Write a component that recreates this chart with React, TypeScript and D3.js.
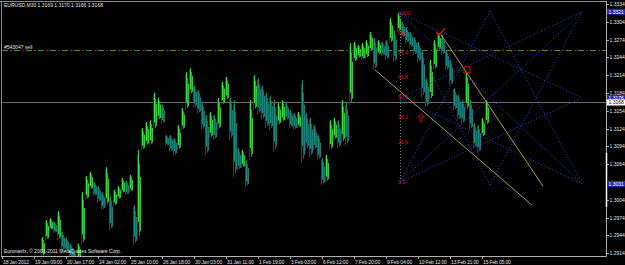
import React from 'react';
import * as d3 from 'd3';

const symbolTitle = 'EURUSD,M30  1.3169 1.3170 1.3166 1.3168';
const orderLabel = '#543047 sell';
const copyright = 'Euronasfx, \u00a9 2001-2011 MetaQuotes Software Corp.';

// M30 bars, sampled every 8 bars starting at bar 82
const firstBar = 82;
const barStep = 8;
const highs = [
  1.2941, 1.2970, 1.2973, 1.2967, 1.2985, 1.2950, 1.2940, 1.2930, 1.2916, 1.2930,
  1.3017, 1.3044, 1.3051, 1.3034, 1.3027, 1.3017, 1.3059, 1.3010, 1.3021, 1.3027,
  1.3041, 1.3036, 1.3046, 1.2995, 1.3088, 1.3125, 1.3135, 1.3138, 1.3184, 1.3176,
  1.3165, 1.3113, 1.3113, 1.3108, 1.3130, 1.3159, 1.3219, 1.3226, 1.3197, 1.3189,
  1.3167, 1.3147, 1.3152, 1.3147, 1.3176, 1.3203, 1.3211, 1.3177, 1.3172, 1.3091,
  1.3088, 1.3071, 1.3172, 1.3214, 1.3209, 1.3197, 1.3184, 1.3179, 1.3172, 1.3167,
  1.3172, 1.3167, 1.3155, 1.3150, 1.3152, 1.3206, 1.3150, 1.3142, 1.3130, 1.3113,
  1.3074, 1.3080, 1.3138, 1.3142, 1.3138, 1.3172, 1.3167, 1.3268, 1.3270, 1.3265,
  1.3268, 1.3273, 1.3287, 1.3277, 1.3273, 1.3270, 1.3273, 1.3310, 1.3290, 1.3319,
  1.3304, 1.3295, 1.3287, 1.3278, 1.3270, 1.3256, 1.3209, 1.3240, 1.3273, 1.3285,
  1.3282, 1.3256, 1.3240, 1.3192, 1.3181, 1.3172, 1.3219, 1.3172, 1.3133, 1.3130,
  1.3142, 1.3172,
];
const lows = [
  1.2909, 1.2936, 1.2953, 1.2948, 1.2936, 1.2919, 1.2916, 1.2906, 1.2894, 1.2899,
  1.2928, 1.3004, 1.3021, 1.3010, 1.3000, 1.2987, 1.2994, 1.2953, 1.2994, 1.3005,
  1.3015, 1.3012, 1.3017, 1.2928, 1.2936, 1.3088, 1.3095, 1.3096, 1.3122, 1.3138,
  1.3132, 1.3095, 1.3085, 1.3080, 1.3088, 1.3122, 1.3155, 1.3181, 1.3159, 1.3149,
  1.3122, 1.3080, 1.3108, 1.3105, 1.3122, 1.3164, 1.3172, 1.3105, 1.3042, 1.3054,
  1.3058, 1.3026, 1.3071, 1.3155, 1.3147, 1.3138, 1.3125, 1.3122, 1.3085, 1.3130,
  1.3135, 1.3138, 1.3125, 1.3122, 1.3125, 1.3066, 1.3088, 1.3076, 1.3088, 1.3071,
  1.3029, 1.3034, 1.3088, 1.3105, 1.3091, 1.3100, 1.3096, 1.3164, 1.3236, 1.3243,
  1.3240, 1.3243, 1.3253, 1.3223, 1.3248, 1.3246, 1.3240, 1.3268, 1.3236, 1.3287,
  1.3277, 1.3268, 1.3260, 1.3248, 1.3236, 1.3177, 1.3160, 1.3172, 1.3223, 1.3256,
  1.3248, 1.3223, 1.3197, 1.3155, 1.3138, 1.3133, 1.3155, 1.3122, 1.3091, 1.3083,
  1.3110, 1.3130,
];

const timeLabels = [
  '18 Jan 2012', '19 Jan 09:00', '20 Jan 17:00', '24 Jan 02:00', '25 Jan 10:00',
  '26 Jan 18:00', '30 Jan 03:00', '31 Jan 11:00', '1 Feb 19:00', '3 Feb 03:00',
  '6 Feb 12:00', '7 Feb 20:00', '9 Feb 04:00', '10 Feb 12:00', '13 Feb 21:00',
  '15 Feb 05:00',
];
const barsPerLabel = 64;
const visibleBars = 1208;

const priceTicks = [
  1.3334, 1.3304, 1.3274, 1.3244, 1.3214, 1.3184, 1.3154, 1.3124, 1.3094, 1.3064,
  1.3034, 1.3004, 1.2974, 1.2944, 1.2914,
];
const currentPrice = 1.3168;
const orderPrice = 1.3256;

const fiboBar = 796;
const fiboHigh = 1.3319;
const fiboLow = 1.3034;
const fiboLevels = [0, 23.6, 38.2, 50, 61.8, 76.4, 88.2, 100];

const starNames = ['A', 'W', 'B', 'C', 'G', 'D', 'E', 'F'];
const starBars = [796, 796, 796, 976, 976, 1160, 1160, 1160];
const starPrices = [1.3319, 1.3176, 1.3034, 1.3322, 1.3029, 1.3321, 1.3176, 1.3031];
const starLines = [
  ['A', 'E'], ['A', 'F'], ['W', 'D'], ['W', 'F'], ['B', 'D'], ['B', 'E'],
  ['C', 'B'], ['C', 'F'], ['G', 'A'], ['G', 'D'],
];

const trendBars1 = [746, 1060];
const trendPrices1 = [1.3223, 1.2995];
const trendBars2 = [876, 1082];
const trendPrices2 = [1.3285, 1.3027];

const axisBoxPrices = [1.3321, 1.3176, 1.3031];
const markCheck = { bar: 876, price: 1.3285 };
const markBox = { bar: 930, price: 1.3223 };
const markArrow = { bar: 838, price: 1.3142 };

const W = 625;
const H = 265;
const L = 2;
const R = 606;
const T = 2;
const B = 256;
const FONT = '"Liberation Sans", Arial, sans-serif';
const FS = 5;
const TXT = '#e4e4e4';

export default function App() {
  const x = d3.scaleLinear().domain([0, visibleBars]).range([L, R]);
  const y = d3.scaleLinear().domain([1.2914, 1.3334]).range([253.2, 4]);
  const fmt = d3.format('.4f');

  const bars = highs.map((h, i) => ({ bar: firstBar + i * barStep, high: h, low: lows[i] }));
  const star = new Map(starNames.map((n, i) => [n, { bar: starBars[i], price: starPrices[i] }]));
  const boxYs = [...axisBoxPrices, currentPrice].map((p) => y(p));
  const covered = (p: number) => boxYs.some((by) => Math.abs(by - y(p)) < 4);

  return (
    <svg width={W} height={H} style={{ position: 'fixed', left: 0, top: 0, display: 'block', background: '#000' }}>
      <defs>
        <clipPath id="plot"><rect x={L} y={T} width={R - L} height={B - T} /></clipPath>
      </defs>
      <rect x={0} y={0} width={W} height={H} fill="#000" />
      {/* frame */}
      <line x1={0} y1={1.5} x2={R} y2={1.5} stroke="#8a8a8a" />
      <line x1={1.5} y1={1} x2={1.5} y2={B} stroke="#8a8a8a" />
      <line x1={R + 0.5} y1={1} x2={R + 0.5} y2={B + 0.5} stroke="#b0b0b0" />
      <line x1={1} y1={B + 0.5} x2={R + 0.5} y2={B + 0.5} stroke="#b0b0b0" />

      <g clipPath="url(#plot)">
        {/* order line */}
        <line x1={L} x2={R} y1={Math.round(y(orderPrice)) + 0.5} y2={Math.round(y(orderPrice)) + 0.5}
          stroke="#4f8f1f" strokeDasharray="6,6" />
        <line x1={L} x2={R} y1={Math.round(y(orderPrice)) + 0.5} y2={Math.round(y(orderPrice)) + 0.5}
          stroke="#8b2a12" strokeDasharray="2,10" strokeDashoffset={-8} />
        {/* current price line */}
        <line x1={L} x2={R} y1={Math.round(y(currentPrice)) + 0.5} y2={Math.round(y(currentPrice)) + 0.5}
          stroke="#6e6e6e" />

        {/* bars */}
        {bars.map((b, i) => {
          const prevMid = i === 0 ? b.low : (bars[i - 1].high + bars[i - 1].low) / 2;
          const up = (b.high + b.low) / 2 >= prevMid;
          const cx = Math.round(x(b.bar));
          const y1 = y(b.high);
          const y2 = y(b.low);
          const hgt = y2 - y1;
          return (
            <g key={i}>
              <line x1={cx - 1.5} x2={cx - 1.5} y1={y1 + hgt * 0.05} y2={y2} stroke={up ? '#2222d8' : '#2a2af0'} />
              <line x1={cx - 0.5} x2={cx - 0.5} y1={y1} y2={y1 + hgt * 0.8} stroke={up ? '#3ce23c' : '#1c8c72'} />
              <line x1={cx + 0.5} x2={cx + 0.5} y1={y1 + hgt * 0.15} y2={y2 - hgt * 0.05} stroke={up ? '#1d9a6a' : '#2f3fe0'} />
              <line x1={cx + 1.5} x2={cx + 1.5} y1={y1 + hgt * 0.3} y2={y2 - hgt * 0.1} stroke={up ? '#34c83a' : '#1e7a80'} />
            </g>
          );
        })}

        {/* fibo vertical */}
        <line x1={x(fiboBar) + 0.5} x2={x(fiboBar) + 0.5} y1={y(fiboHigh)} y2={y(fiboLow)}
          stroke="#909090" strokeDasharray="1,2" />
        {fiboLevels.map((lv) => {
          const p = fiboLow + (fiboHigh - fiboLow) * lv / 100;
          return (
            <text key={lv} x={x(fiboBar) - 2} y={y(p) + 2} fontFamily={FONT} fontSize={FS} fill="#e01818">
              {lv.toFixed(1)}
            </text>
          );
        })}

        {/* star lines */}
        {starLines.map(([a, b], i) => {
          const p = star.get(a)!;
          const q = star.get(b)!;
          return (
            <line key={i} x1={x(p.bar)} y1={y(p.price)} x2={x(q.bar)} y2={y(q.price)}
              stroke="#4040e0" strokeDasharray="1,2" />
          );
        })}

        {/* trend lines */}
        <line x1={x(trendBars1[0])} y1={y(trendPrices1[0])} x2={x(trendBars1[1])} y2={y(trendPrices1[1])} stroke="#b39c3e" />
        <line x1={x(trendBars2[0])} y1={y(trendPrices2[0])} x2={x(trendBars2[1])} y2={y(trendPrices2[1])} stroke="#b39c3e" />

        {/* red marks */}
        {(() => {
          const cx = x(markCheck.bar);
          const cy = y(markCheck.price);
          return <path d={`M${cx - 4},${cy - 1} L${cx - 1},${cy + 2} L${cx + 5},${cy - 5}`} stroke="#e01010" strokeWidth={1.3} fill="none" />;
        })()}
        {(() => {
          const cx = x(markBox.bar);
          const cy = y(markBox.price);
          return <rect x={cx - 3} y={cy - 3} width={6} height={6} stroke="#e01010" fill="none" />;
        })()}
        {(() => {
          const cx = x(markArrow.bar);
          const cy = y(markArrow.price);
          return <path d={`M${cx},${cy - 4} L${cx + 3},${cy - 1} L${cx + 1},${cy - 1} L${cx + 1},${cy + 4} L${cx - 1},${cy + 4} L${cx - 1},${cy - 1} L${cx - 3},${cy - 1} Z`} stroke="#e01010" fill="none" strokeWidth={0.8} />;
        })()}
      </g>

      {/* texts */}
      <text x={4} y={7} fontFamily={FONT} fontSize={FS} fill={TXT}>{symbolTitle}</text>
      <text x={4} y={49} fontFamily={FONT} fontSize={FS} fill={TXT}>{orderLabel}</text>
      <text x={4} y={253} fontFamily={FONT} fontSize={FS} fill={TXT}>{copyright}</text>

      {/* price axis */}
      {priceTicks.map((p) => (
        <g key={p}>
          <line x1={R} x2={R + 3} y1={Math.round(y(p)) + 0.5} y2={Math.round(y(p)) + 0.5} stroke="#b0b0b0" />
          {!covered(p) && (
            <text x={R + 3.5} y={y(p) + 2} fontFamily={FONT} fontSize={FS} fill={TXT}>{fmt(p)}</text>
          )}
        </g>
      ))}
      <line x1={R + 0.5} x2={R + 0.5} y1={153} y2={207} stroke="#ffffff" strokeWidth={1.5} />
      {axisBoxPrices.map((p) => (
        <g key={p}>
          <rect x={R + 1} y={y(p) - 3} width={18} height={6} fill="#2a2ab0" />
          <text x={R + 2.5} y={y(p) + 2} fontFamily={FONT} fontSize={FS} fill="#ffffff">{fmt(p)}</text>
        </g>
      ))}
      <rect x={R + 1} y={y(currentPrice) - 3} width={18} height={6} fill="#ffffff" />
      <text x={R + 2.5} y={y(currentPrice) + 2} fontFamily={FONT} fontSize={FS} fill="#000">{fmt(currentPrice)}</text>

      {/* time axis */}
      {timeLabels.map((t, i) => {
        const px = x(i * barsPerLabel);
        return (
          <g key={t}>
            <line x1={Math.round(px) + 0.5} x2={Math.round(px) + 0.5} y1={B} y2={B + 3} stroke="#b0b0b0" />
            <text x={px + 1} y={263.5} fontFamily={FONT} fontSize={FS} letterSpacing={-0.15} fill={TXT}>{t}</text>
          </g>
        );
      })}
    </svg>
  );
}
